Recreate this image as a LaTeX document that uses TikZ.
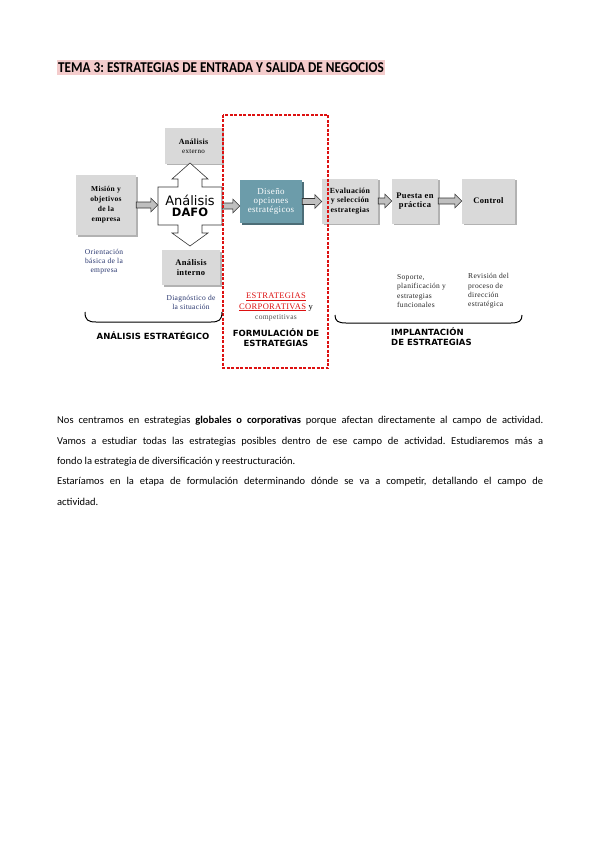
\documentclass[tikz,border=0pt]{standalone}
\usepackage{fontspec}
\usepackage{graphicx}
\setmainfont{Carlito}
\newfontfamily\boxFont[LetterSpace=4]{Liberation Serif}
\newfontfamily\headFont{DejaVu Sans}
\usepackage{tikz}
\usetikzlibrary{calc, shadows}
\definecolor{titleColor}{HTML}{F4CCCC}
\definecolor{boxColor}{HTML}{D9D9D9}
\definecolor{tealColor}{HTML}{6C9CAA}
\definecolor{noteColor}{HTML}{27356E}
\definecolor{frameColor}{HTML}{DD1111}

\newcommand{\blockArrow}[2]{%
  \draw[blockArrowStyle] let \p1 = (#1), \p2 = (#2) in
    (\x1, \y1+3pt) -- (\x2-7pt, \y1+3pt) -- (\x2-7pt, \y1+7pt) -- (\x2, \y1)
    -- (\x2-7pt, \y1-7pt) -- (\x2-7pt, \y1-3pt) -- (\x1, \y1-3pt) -- cycle;}

\begin{document}
\frenchspacing
\begin{tikzpicture}[x=1pt, y=-1pt,
    grayBox/.style={fill=boxColor, align=center, inner sep=1pt,
        general shadow={fill=black!30, shadow xshift=2pt, shadow yshift=-1.5pt},
        font=\boxFont\bfseries\fontsize{8.5}{9.5}\selectfont},
    noteText/.style={align=center, inner sep=0pt, text=noteColor,
        font=\boxFont\fontsize{7.5}{9}\selectfont},
    stageLabel/.style={inner sep=0pt, font=\headFont\bfseries\fontsize{8.5}{10}\selectfont},
    blockArrowStyle/.style={fill=black!25, draw=black!80, line width=0.6pt},
    bodyLine/.style={anchor=base west, inner sep=0pt, font=\fontsize{10.5}{12}\selectfont}]
    \fill[white] (0,0) rectangle (600,848);
    \useasboundingbox (0,0) rectangle (600,848);

    \node[fill=titleColor, anchor=west, inner xsep=1pt, inner ysep=3pt,
        font=\bfseries\fontsize{15}{18}\selectfont] (title) at (57,67.5)
        {\scalebox{0.88}[1]{TEMA 3: ESTRATEGIAS DE ENTRADA Y SALIDA DE NEGOCIOS}};

    % analisis estrategico
    \node[grayBox, minimum width=57pt, minimum height=35pt, font=\boxFont\bfseries\fontsize{8}{9}\selectfont]
        (externo) at (193.5,146) {Análisis\\{\mdseries\fontsize{7}{8}\selectfont externo}};
    \node[grayBox, minimum width=60pt, minimum height=60pt,
        font=\boxFont\bfseries\fontsize{7.5}{10}\selectfont] (mision) at (106,205)
        {Misión y\\objetivos\\de la\\empresa};
    \node[grayBox, minimum width=58pt, minimum height=35pt, font=\boxFont\bfseries\fontsize{8.5}{10}\selectfont]
        (interno) at (191,267.5) {Análisis\\interno};

    \draw[fill=white, draw=black!80, line width=0.6pt] (158,187) -- (178,187) -- (178,179)
        -- (172,179) -- (190,163) -- (208,179) -- (202,179) -- (202,187) -- (222,187)
        -- (222,225) -- (202,225) -- (202,233) -- (208,233) -- (190,246) -- (172,233)
        -- (178,233) -- (178,225) -- (158,225) -- cycle;
    \node[minimum width=64pt, minimum height=38pt, inner sep=0pt, align=center] (dafo) at (190,206)
        {{\headFont\fontsize{13}{14}\selectfont Análisis}\\[-1pt]{\headFont\bfseries\fontsize{11.5}{13}\selectfont DAFO}};

    \node[noteText] (orientacion) at (104,262) {Orientación\\básica de la\\empresa};
    \node[noteText] (diagnostico) at (191,302) {Diagnóstico de\\la situación};

    % formulacion
    \node[fill=tealColor, text=white, align=center, inner sep=1pt, minimum width=62pt, minimum height=43pt,
        general shadow={fill=tealColor!70!black, shadow xshift=2pt, shadow yshift=-1.5pt},
        font=\boxFont\fontsize{9}{9}\selectfont] (diseno) at (271,201.5)
        {Diseño\\opciones\\estratégicos};
    \node[align=center, inner sep=0pt, font=\boxFont\fontsize{8.5}{10.5}\selectfont] (corporativas) at (276,307)
        {\textcolor{frameColor}{\underline{ESTRATEGIAS}}\\
         \textcolor{frameColor}{\underline{CORPORATIVAS}} y\\
         {\color{black!70}\fontsize{7.5}{8}\selectfont competitivas}};
    \node[stageLabel, align=center] (formulacion) at (276,338) {FORMULACIÓN DE\\ESTRATEGIAS};

    % implantacion
    \node[grayBox, minimum width=56pt, minimum height=45pt, font=\boxFont\bfseries\fontsize{7.8}{9.3}\selectfont]
        (evaluacion) at (350,201) {Evaluación\\y selección\\estrategias};
    \node[grayBox, minimum width=46pt, minimum height=45pt] (puesta) at (415,201)
        {Puesta en\\práctica};
    \node[grayBox, minimum width=53pt, minimum height=45pt] (control) at (488.5,201)
        {Control};
    \node[noteText, text=black!85, align=left, anchor=west, font=\boxFont\fontsize{7.5}{9.3}\selectfont]
        (soporte) at (397,291) {Soporte,\\planificación y\\estrategias\\funcionales};
    \node[noteText, text=black!85, align=left, anchor=west, font=\boxFont\fontsize{7.5}{9.3}\selectfont]
        (revision) at (468,291) {Revisión del\\proceso de\\dirección\\estratégica};

    \blockArrow{mision.east}{dafo.west}
    \blockArrow{dafo.east}{diseno.west}
    \blockArrow{diseno.east}{evaluacion.west}
    \blockArrow{evaluacion.east}{puesta.west}
    \blockArrow{puesta.east}{control.west}

    \draw[frameColor, line width=1.3pt, dash pattern=on 3pt off 1.5pt] (223,115) rectangle (328,368);

    % llaves
    \draw[line width=1pt] (85,312) .. controls (85,320) and (88,322) .. (96,322) -- (211,322)
        .. controls (219,322) and (222,320) .. (222,312);
    \draw[line width=1pt] (335,315) .. controls (335,321) and (338,323) .. (346,323) -- (511,323)
        .. controls (519,323) and (522,321) .. (522,315);
    \node[stageLabel] (estrategico) at (153,336) {ANÁLISIS ESTRATÉGICO};
    \node[stageLabel, align=left, anchor=west] (implantacion) at (391,337) {IMPLANTACIÓN\\DE ESTRATEGIAS};

    % texto
    \node[bodyLine] (line1) at (57,423) {\makebox[486pt][s]{Nos centramos en estrategias \textbf{globales o corporativas} porque afectan directamente al campo de actividad.}};
    \node[bodyLine] (line2) at (57,444) {\makebox[486pt][s]{Vamos a estudiar todas las estrategias posibles dentro de ese campo de actividad. Estudiaremos más a}};
    \node[bodyLine] (line3) at (57,464) {fondo la estrategia de diversificación y reestructuración.};
    \node[bodyLine] (line4) at (57,484) {\makebox[486pt][s]{Estaríamos en la etapa de formulación determinando dónde se va a competir, detallando el campo de}};
    \node[bodyLine] (line5) at (57,505) {actividad.};
\end{tikzpicture}
\end{document}
